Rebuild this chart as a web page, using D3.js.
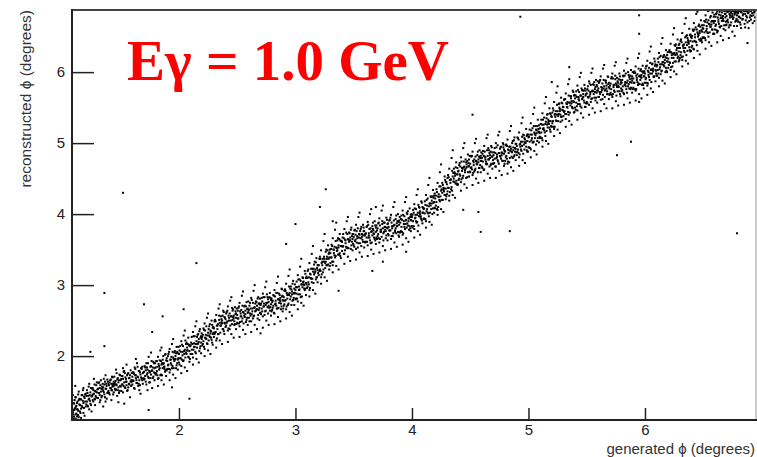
<!DOCTYPE html>
<html>
<head>
<meta charset="utf-8">
<script src="https://cdn.jsdelivr.net/npm/d3@7"></script>
<style>
  html, body { margin: 0; padding: 0; background: #fff; }
  svg { display: block; }
</style>
</head>
<body>
<svg id="chart" width="757" height="457"></svg>
<script>
// Generated vs reconstructed photon azimuth, E = 1.0 GeV
const xAxisTitle = "generated \u03D5 (degrees)";
const yAxisTitle = "reconstructed \u03D5 (degrees)";
const xMajorTicks = [2, 3, 4, 5, 6];
const yMajorTicks = [2, 3, 4, 5, 6];
const xRange = [1.082, 6.953];
const yRange = [1.10, 6.875];

// correlation band, first sample: [generated, reconstructed]
const events = [
[1.09,1.12],[1.09,1.21],[1.10,1.33],[1.10,1.15],[1.11,1.27],[1.11,1.42],[1.12,1.19],[1.12,1.11],[1.13,1.36],[1.13,1.25],[1.14,1.50],[1.14,1.14],[1.15,1.31],[1.15,1.22],[1.16,1.39],[1.16,1.13],[1.17,1.28],[1.17,1.45],[1.18,1.20],[1.18,1.34],[1.19,1.16],[1.19,1.41],[1.10,1.24],[1.12,1.30],[1.14,1.38],[1.16,1.26],[1.18,1.55],[1.09,1.45],[1.11,1.58],[1.20,1.29],
[1.20,1.47],[1.21,1.36],[1.21,1.52],[1.22,1.29],[1.22,1.44],[1.23,1.61],[1.23,1.40],[1.24,1.33],[1.24,1.49],[1.25,1.22],[1.25,1.43],[1.26,1.55],[1.26,1.38],[1.27,1.47],[1.27,1.68],[1.28,1.31],[1.28,1.51],[1.29,1.42],[1.29,1.59],[1.23,1.25],[1.26,1.46],[1.28,1.39],
[1.30,1.53],[1.30,1.41],[1.31,1.62],[1.31,1.48],[1.32,1.55],[1.32,1.35],[1.33,1.50],[1.33,1.66],[1.34,1.44],[1.34,1.57],[1.35,1.51],[1.35,1.29],[1.36,1.60],[1.36,1.46],[1.37,1.73],[1.37,1.54],[1.38,1.40],[1.38,1.58],[1.39,1.49],[1.39,1.64],[1.32,1.45],[1.35,1.56],[1.37,1.36],
[1.40,1.59],[1.40,1.48],[1.41,1.66],[1.41,1.55],[1.42,1.52],[1.42,1.61],[1.43,1.57],[1.43,1.70],[1.44,1.49],[1.44,1.58],[1.45,1.62],[1.45,1.54],[1.46,1.81],[1.46,1.60],[1.47,1.44],[1.47,1.67],[1.48,1.56],[1.48,1.63],[1.49,1.51],[1.49,1.74],[1.42,1.38],[1.44,1.64],[1.46,1.53],[1.48,1.35],[1.43,1.59],
[1.50,1.66],[1.50,1.57],[1.51,1.72],[1.51,1.60],[1.52,1.49],[1.52,1.68],[1.53,1.79],[1.53,1.63],[1.54,1.55],[1.54,1.70],[1.55,1.64],[1.55,1.88],[1.56,1.52],[1.56,1.75],[1.57,1.61],[1.57,1.69],[1.58,1.42],[1.58,1.73],[1.59,1.58],[1.59,1.66],[1.52,1.83],[1.55,1.59],
[1.60,1.71],[1.60,1.60],[1.61,1.77],[1.61,1.65],[1.62,1.54],[1.62,1.84],[1.63,1.69],[1.63,1.73],[1.64,1.62],[1.64,1.90],[1.65,1.70],[1.65,1.58],[1.66,1.79],[1.66,1.66],[1.67,1.47],[1.67,1.74],[1.68,1.82],[1.68,1.68],[1.69,1.61],[1.69,1.76],[1.63,1.96],[1.66,1.52],
[1.70,1.78],[1.70,1.67],[1.71,1.84],[1.71,1.72],[1.72,1.60],[1.72,1.90],[1.73,1.76],[1.73,1.81],[1.74,1.69],[1.74,1.99],[1.75,1.77],[1.75,1.63],[1.76,1.86],[1.76,1.74],[1.77,1.55],[1.77,1.80],[1.78,1.92],[1.78,1.71],[1.79,1.83],[1.79,1.66],[1.73,1.52],[1.76,2.05],
[1.80,1.84],[1.80,1.74],[1.81,1.93],[1.81,1.79],[1.82,1.68],[1.82,1.99],[1.83,1.86],[1.83,1.81],[1.84,1.73],[1.84,2.08],[1.85,1.88],[1.85,1.66],[1.86,1.95],[1.86,1.83],[1.87,1.60],[1.87,1.90],[1.88,2.02],[1.88,1.78],[1.89,1.94],[1.89,1.72],[1.82,1.58],[1.85,2.12],[1.87,1.85],
[1.90,1.93],[1.90,1.82],[1.91,2.03],[1.91,1.88],[1.92,1.77],[1.92,2.10],[1.93,1.95],[1.93,1.90],[1.94,1.83],[1.94,2.17],[1.95,1.98],[1.95,1.74],[1.96,2.05],[1.96,1.93],[1.97,1.69],[1.97,2.00],[1.98,2.13],[1.98,1.87],[1.99,2.04],[1.99,1.81],[1.92,1.66],[1.95,2.24],[1.97,1.96],[1.99,1.95],
[2.00,2.03],[2.00,1.91],[2.01,2.14],[2.01,1.97],[2.02,1.86],[2.02,2.21],[2.03,2.06],[2.03,2.01],[2.04,1.94],[2.04,2.29],[2.05,2.09],[2.05,1.84],[2.06,2.17],[2.06,2.05],[2.07,1.79],[2.07,2.12],[2.08,2.26],[2.08,1.99],[2.09,2.16],[2.09,1.92],[2.02,1.76],[2.05,2.36],[2.07,2.08],[2.09,2.07],
[2.10,2.15],[2.10,2.03],[2.11,2.27],[2.11,2.09],[2.12,1.98],[2.12,2.34],[2.13,2.18],[2.13,2.13],[2.14,2.06],[2.14,2.42],[2.15,2.21],[2.15,1.96],[2.16,2.30],[2.16,2.17],[2.17,1.91],[2.17,2.24],[2.18,2.38],[2.18,2.11],[2.19,2.28],[2.19,2.04],[2.12,1.88],[2.15,2.49],[2.17,2.20],[2.19,2.19],
[2.20,2.27],[2.20,2.15],[2.21,2.39],[2.21,2.21],[2.22,2.10],[2.22,2.46],[2.23,2.30],[2.23,2.25],[2.24,2.18],[2.24,2.54],[2.25,2.33],[2.25,2.08],[2.26,2.42],[2.26,2.29],[2.27,2.03],[2.27,2.36],[2.28,2.50],[2.28,2.23],[2.29,2.40],[2.29,2.16],[2.22,2.00],[2.25,2.60],[2.27,2.32],[2.29,2.31],
[2.30,2.39],[2.30,2.27],[2.31,2.51],[2.31,2.33],[2.32,2.22],[2.32,2.58],[2.33,2.43],[2.33,2.38],[2.34,2.31],[2.34,2.67],[2.35,2.47],[2.35,2.22],[2.36,2.56],[2.36,2.43],[2.37,2.17],[2.37,2.50],[2.38,2.64],[2.38,2.38],[2.39,2.55],[2.39,2.31],[2.32,2.12],[2.35,2.73],[2.37,2.46],[2.39,2.47],
[2.40,2.52],[2.40,2.41],[2.41,2.62],[2.41,2.47],[2.42,2.36],[2.42,2.70],[2.43,2.54],[2.43,2.50],[2.44,2.43],[2.44,2.78],[2.45,2.56],[2.45,2.31],[2.46,2.64],[2.46,2.51],[2.47,2.26],[2.47,2.57],[2.48,2.69],[2.48,2.45],[2.49,2.60],[2.49,2.38],[2.42,2.20],[2.45,2.83],[2.47,2.53],[2.49,2.54],
[2.50,2.58],[2.50,2.47],[2.51,2.68],[2.51,2.53],[2.52,2.42],[2.52,2.75],[2.53,2.60],[2.53,2.56],[2.54,2.49],[2.54,2.85],[2.55,2.62],[2.55,2.37],[2.56,2.70],[2.56,2.57],[2.57,2.31],[2.57,2.64],[2.58,2.76],[2.58,2.51],[2.59,2.67],[2.59,2.44],[2.52,2.27],[2.55,2.91],[2.57,2.59],[2.59,2.61],
[2.60,2.65],[2.60,2.54],[2.61,2.75],[2.61,2.60],[2.62,2.49],[2.62,2.82],[2.63,2.67],[2.63,2.63],[2.64,2.56],[2.64,2.92],[2.65,2.69],[2.65,2.44],[2.66,2.77],[2.66,2.64],[2.67,2.38],[2.67,2.71],[2.68,2.83],[2.68,2.58],[2.69,2.74],[2.69,2.51],[2.62,2.34],[2.65,3.00],[2.67,2.66],[2.69,2.68],
[2.70,2.72],[2.70,2.61],[2.71,2.82],[2.71,2.67],[2.72,2.56],[2.72,2.88],[2.73,2.74],[2.73,2.70],[2.74,2.63],[2.74,2.97],[2.75,2.75],[2.75,2.50],[2.76,2.83],[2.76,2.69],[2.77,2.44],[2.77,2.76],[2.78,2.89],[2.78,2.64],[2.79,2.79],[2.79,2.57],[2.72,2.40],[2.75,3.05],[2.77,2.71],[2.79,2.73],
[2.80,2.76],[2.80,2.65],[2.81,2.86],[2.81,2.71],[2.82,2.60],[2.82,2.93],[2.83,2.78],[2.83,2.74],[2.84,2.67],[2.84,3.03],[2.85,2.80],[2.85,2.55],[2.86,2.88],[2.86,2.75],[2.87,2.49],[2.87,2.82],[2.88,2.95],[2.88,2.70],[2.89,2.85],[2.89,2.63],[2.82,2.45],[2.85,3.12],[2.87,2.77],[2.89,2.79],
[2.90,2.83],[2.90,2.71],[2.91,2.94],[2.91,2.78],[2.92,2.66],[2.92,3.02],[2.93,2.86],[2.93,2.81],[2.94,2.74],[2.94,3.13],[2.95,2.89],[2.95,2.62],[2.96,2.98],[2.96,2.84],[2.97,2.57],[2.97,2.91],[2.98,3.06],[2.98,2.79],[2.99,2.95],[2.99,2.72],[2.92,2.53],[2.95,3.22],[2.97,2.87],[2.99,2.88],
[3.00,2.93],[3.00,2.80],[3.01,3.05],[3.01,2.88],[3.02,2.77],[3.02,3.14],[3.03,2.98],[3.03,2.93],[3.04,2.87],[3.04,3.26],[3.05,3.01],[3.05,2.75],[3.06,3.11],[3.06,2.97],[3.07,2.71],[3.07,3.05],[3.08,3.20],[3.08,2.93],[3.09,3.10],[3.09,2.86],[3.02,2.66],[3.05,3.37],[3.07,3.01],[3.09,3.03],
[3.10,3.10],[3.10,2.96],[3.11,3.22],[3.11,3.04],[3.12,2.93],[3.12,3.31],[3.13,3.15],[3.13,3.10],[3.14,3.04],[3.14,3.44],[3.15,3.19],[3.15,2.93],[3.16,3.29],[3.16,3.15],[3.17,2.88],[3.17,3.22],[3.18,3.38],[3.18,3.11],[3.19,3.28],[3.19,3.04],[3.12,2.84],[3.15,3.55],[3.17,3.19],[3.19,3.21],
[3.20,3.28],[3.20,3.14],[3.21,3.40],[3.21,3.22],[3.22,3.11],[3.22,3.49],[3.23,3.33],[3.23,3.28],[3.24,3.22],[3.24,3.62],[3.25,3.37],[3.25,3.11],[3.26,3.47],[3.26,3.33],[3.27,3.06],[3.27,3.40],[3.28,3.56],[3.28,3.29],[3.29,3.46],[3.29,3.22],[3.22,3.02],[3.25,3.72],[3.27,3.37],[3.29,3.39],
[3.30,3.45],[3.30,3.31],[3.31,3.57],[3.31,3.39],[3.32,3.28],[3.32,3.66],[3.33,3.50],[3.33,3.45],[3.34,3.39],[3.34,3.78],[3.35,3.53],[3.35,3.27],[3.36,3.63],[3.36,3.49],[3.37,3.22],[3.37,3.56],[3.38,3.72],[3.38,3.45],[3.39,3.62],[3.39,3.38],[3.32,3.18],[3.35,3.88],[3.37,3.53],[3.39,3.55],
[3.40,3.61],[3.40,3.48],[3.41,3.72],[3.41,3.55],[3.42,3.44],[3.42,3.79],[3.43,3.63],[3.43,3.59],[3.44,3.52],[3.44,3.90],[3.45,3.65],[3.45,3.40],[3.46,3.74],[3.46,3.61],[3.47,3.34],[3.47,3.67],[3.48,3.81],[3.48,3.56],[3.49,3.72],[3.49,3.49],[3.42,3.30],[3.45,3.96],[3.47,3.63],[3.49,3.65],
[3.50,3.68],[3.50,3.56],[3.51,3.78],[3.51,3.62],[3.52,3.51],[3.52,3.85],[3.53,3.69],[3.53,3.66],[3.54,3.59],[3.54,3.96],[3.55,3.71],[3.55,3.46],[3.56,3.79],[3.56,3.66],[3.57,3.40],[3.57,3.72],[3.58,3.85],[3.58,3.61],[3.59,3.76],[3.59,3.53],[3.52,3.36],[3.55,4.02],[3.57,3.68],[3.59,3.70],
[3.60,3.72],[3.60,3.60],[3.61,3.82],[3.61,3.67],[3.62,3.56],[3.62,3.89],[3.63,3.73],[3.63,3.70],[3.64,3.63],[3.64,4.00],[3.65,3.75],[3.65,3.50],[3.66,3.83],[3.66,3.70],[3.67,3.44],[3.67,3.77],[3.68,3.90],[3.68,3.65],[3.69,3.81],[3.69,3.58],[3.62,3.41],[3.65,4.07],[3.67,3.73],[3.69,3.75],
[3.70,3.77],[3.70,3.65],[3.71,3.87],[3.71,3.72],[3.72,3.60],[3.72,3.94],[3.73,3.78],[3.73,3.75],[3.74,3.68],[3.74,4.05],[3.75,3.80],[3.75,3.55],[3.76,3.88],[3.76,3.75],[3.77,3.49],[3.77,3.82],[3.78,3.95],[3.78,3.70],[3.79,3.86],[3.79,3.63],[3.72,3.46],[3.75,4.12],[3.77,3.78],[3.79,3.80],
[3.80,3.82],[3.80,3.70],[3.81,3.92],[3.81,3.77],[3.82,3.65],[3.82,3.99],[3.83,3.83],[3.83,3.80],[3.84,3.73],[3.84,4.10],[3.85,3.85],[3.85,3.60],[3.86,3.93],[3.86,3.80],[3.87,3.54],[3.87,3.87],[3.88,4.00],[3.88,3.75],[3.89,3.91],[3.89,3.68],[3.82,3.51],[3.85,4.17],[3.87,3.83],[3.89,3.85],
[3.90,3.88],[3.90,3.75],[3.91,3.98],[3.91,3.82],[3.92,3.71],[3.92,4.05],[3.93,3.90],[3.93,3.86],[3.94,3.79],[3.94,4.17],[3.95,3.92],[3.95,3.66],[3.96,4.00],[3.96,3.87],[3.97,3.61],[3.97,3.94],[3.98,4.08],[3.98,3.83],[3.99,3.99],[3.99,3.76],[3.92,3.57],[3.95,4.24],[3.97,3.90],[3.99,3.92],
[4.00,3.96],[4.00,3.83],[4.01,4.06],[4.01,3.90],[4.02,3.79],[4.02,4.14],[4.03,3.99],[4.03,3.95],[4.04,3.88],[4.04,4.27],[4.05,4.02],[4.05,3.76],[4.06,4.10],[4.06,3.97],[4.07,3.71],[4.07,4.04],[4.08,4.18],[4.08,3.93],[4.09,4.10],[4.09,3.87],[4.02,3.67],[4.05,4.35],[4.07,4.00],[4.09,4.02],
[4.10,4.07],[4.10,3.93],[4.11,4.18],[4.11,4.01],[4.12,3.90],[4.12,4.27],[4.13,4.12],[4.13,4.07],[4.14,4.01],[4.14,4.41],[4.15,4.15],[4.15,3.89],[4.16,4.25],[4.16,4.12],[4.17,3.85],[4.17,4.19],[4.18,4.34],[4.18,4.08],[4.19,4.26],[4.19,4.02],[4.12,3.81],[4.15,4.51],[4.17,4.15],[4.19,4.17],
[4.20,4.22],[4.20,4.08],[4.21,4.35],[4.21,4.17],[4.22,4.06],[4.22,4.44],[4.23,4.28],[4.23,4.24],[4.24,4.18],[4.24,4.59],[4.25,4.33],[4.25,4.07],[4.26,4.44],[4.26,4.30],[4.27,4.03],[4.27,4.37],[4.28,4.53],[4.28,4.27],[4.29,4.45],[4.29,4.21],[4.22,3.99],[4.25,4.70],[4.27,4.34],[4.29,4.36],
[4.30,4.42],[4.30,4.28],[4.31,4.55],[4.31,4.37],[4.32,4.26],[4.32,4.64],[4.33,4.48],[4.33,4.44],[4.34,4.38],[4.34,4.79],[4.35,4.53],[4.35,4.27],[4.36,4.64],[4.36,4.50],[4.37,4.23],[4.37,4.57],[4.38,4.73],[4.38,4.47],[4.39,4.65],[4.39,4.41],[4.32,4.19],[4.35,4.90],[4.37,4.54],[4.39,4.56],
[4.40,4.61],[4.40,4.48],[4.41,4.72],[4.41,4.56],[4.42,4.45],[4.42,4.80],[4.43,4.65],[4.43,4.61],[4.44,4.54],[4.44,4.93],[4.45,4.67],[4.45,4.42],[4.46,4.77],[4.46,4.64],[4.47,4.37],[4.47,4.70],[4.48,4.84],[4.48,4.59],[4.49,4.77],[4.49,4.53],[4.42,4.33],[4.45,5.00],[4.47,4.66],[4.49,4.68],
[4.50,4.71],[4.50,4.59],[4.51,4.81],[4.51,4.66],[4.52,4.55],[4.52,4.88],[4.53,4.73],[4.53,4.69],[4.54,4.62],[4.54,5.00],[4.55,4.75],[4.55,4.50],[4.56,4.83],[4.56,4.70],[4.57,4.44],[4.57,4.77],[4.58,4.90],[4.58,4.65],[4.59,4.82],[4.59,4.59],[4.52,4.41],[4.55,5.06],[4.57,4.73],[4.59,4.75],
[4.60,4.79],[4.60,4.67],[4.61,4.89],[4.61,4.74],[4.62,4.63],[4.62,4.96],[4.63,4.80],[4.63,4.77],[4.64,4.70],[4.64,5.07],[4.65,4.82],[4.65,4.57],[4.66,4.90],[4.66,4.77],[4.67,4.51],[4.67,4.83],[4.68,4.96],[4.68,4.71],[4.69,4.87],[4.69,4.64],[4.62,4.47],[4.65,5.12],[4.67,4.79],[4.69,4.81],
[4.70,4.83],[4.70,4.71],[4.71,4.93],[4.71,4.78],[4.72,4.67],[4.72,5.00],[4.73,4.84],[4.73,4.81],[4.74,4.74],[4.74,5.11],[4.75,4.86],[4.75,4.61],[4.76,4.94],[4.76,4.81],[4.77,4.55],[4.77,4.87],[4.78,5.00],[4.78,4.75],[4.79,4.91],[4.79,4.68],[4.72,4.51],[4.75,5.16],[4.77,4.83],[4.79,4.85],
[4.80,4.88],[4.80,4.75],[4.81,4.98],[4.81,4.82],[4.82,4.71],[4.82,5.05],[4.83,4.90],[4.83,4.86],[4.84,4.79],[4.84,5.17],[4.85,4.92],[4.85,4.66],[4.86,5.00],[4.86,4.87],[4.87,4.61],[4.87,4.94],[4.88,5.08],[4.88,4.83],[4.89,4.99],[4.89,4.76],[4.82,4.57],[4.85,5.24],[4.87,4.90],[4.89,4.92],
[4.90,4.96],[4.90,4.83],[4.91,5.07],[4.91,4.91],[4.92,4.80],[4.92,5.15],[4.93,4.99],[4.93,4.95],[4.94,4.89],[4.94,5.28],[4.95,5.02],[4.95,4.76],[4.96,5.11],[4.96,4.98],[4.97,4.72],[4.97,5.05],[4.98,5.20],[4.98,4.95],[4.99,5.12],[4.99,4.88],[4.92,4.68],[4.95,5.36],[4.97,5.01],[4.99,5.03],
[5.00,5.08],[5.00,4.94],[5.01,5.19],[5.01,5.02],[5.02,4.91],[5.02,5.28],[5.03,5.12],[5.03,5.07],[5.04,5.01],[5.04,5.41],[5.05,5.15],[5.05,4.89],[5.06,5.24],[5.06,5.11],[5.07,4.84],[5.07,5.18],[5.08,5.33],[5.08,5.07],[5.09,5.25],[5.09,5.01],[5.02,4.80],[5.05,5.50],[5.07,5.14],[5.09,5.16],
[5.10,5.21],[5.10,5.07],[5.11,5.33],[5.11,5.15],[5.12,5.04],[5.12,5.42],[5.13,5.26],[5.13,5.21],[5.14,5.15],[5.14,5.56],[5.15,5.30],[5.15,5.03],[5.16,5.40],[5.16,5.26],[5.17,4.99],[5.17,5.33],[5.18,5.49],[5.18,5.22],[5.19,5.41],[5.19,5.16],[5.12,4.95],[5.15,5.65],[5.17,5.29],[5.19,5.31],
[5.20,5.37],[5.20,5.23],[5.21,5.49],[5.21,5.31],[5.22,5.20],[5.22,5.58],[5.23,5.41],[5.23,5.37],[5.24,5.31],[5.24,5.71],[5.25,5.45],[5.25,5.19],[5.26,5.55],[5.26,5.41],[5.27,5.14],[5.27,5.48],[5.28,5.64],[5.28,5.37],[5.29,5.56],[5.29,5.32],[5.22,5.10],[5.25,5.80],[5.27,5.45],[5.29,5.47],
[5.30,5.51],[5.30,5.38],[5.31,5.62],[5.31,5.45],[5.32,5.34],[5.32,5.70],[5.33,5.55],[5.33,5.51],[5.34,5.44],[5.34,5.83],[5.35,5.57],[5.35,5.31],[5.36,5.66],[5.36,5.53],[5.37,5.26],[5.37,5.59],[5.38,5.74],[5.38,5.49],[5.39,5.67],[5.39,5.43],[5.32,5.23],[5.35,5.90],[5.37,5.56],[5.39,5.58],
[5.40,5.63],[5.40,5.50],[5.41,5.73],[5.41,5.57],[5.42,5.46],[5.42,5.81],[5.43,5.65],[5.43,5.62],[5.44,5.55],[5.44,5.93],[5.45,5.67],[5.45,5.42],[5.46,5.75],[5.46,5.62],[5.47,5.36],[5.47,5.69],[5.48,5.82],[5.48,5.57],[5.49,5.74],[5.49,5.51],[5.42,5.33],[5.45,5.99],[5.47,5.65],[5.49,5.67],
[5.50,5.70],[5.50,5.58],[5.51,5.80],[5.51,5.65],[5.52,5.54],[5.52,5.87],[5.53,5.72],[5.53,5.69],[5.54,5.62],[5.54,5.99],[5.55,5.74],[5.55,5.49],[5.56,5.82],[5.56,5.69],[5.57,5.43],[5.57,5.76],[5.58,5.89],[5.58,5.64],[5.59,5.80],[5.59,5.57],[5.52,5.40],[5.55,6.05],[5.57,5.72],[5.59,5.74],
[5.60,5.77],[5.60,5.65],[5.61,5.87],[5.61,5.72],[5.62,5.61],[5.62,5.94],[5.63,5.78],[5.63,5.75],[5.64,5.68],[5.64,6.05],[5.65,5.80],[5.65,5.55],[5.66,5.88],[5.66,5.75],[5.67,5.49],[5.67,5.81],[5.68,5.94],[5.68,5.69],[5.69,5.85],[5.69,5.62],[5.62,5.45],[5.65,6.10],[5.67,5.77],[5.69,5.79],
[5.70,5.81],[5.70,5.69],[5.71,5.91],[5.71,5.76],[5.72,5.65],[5.72,5.98],[5.73,5.82],[5.73,5.79],[5.74,5.72],[5.74,6.09],[5.75,5.84],[5.75,5.59],[5.76,5.92],[5.76,5.79],[5.77,5.53],[5.77,5.85],[5.78,5.98],[5.78,5.73],[5.79,5.89],[5.79,5.66],[5.72,5.49],[5.75,6.14],[5.77,5.81],[5.79,5.83],
[5.80,5.85],[5.80,5.73],[5.81,5.95],[5.81,5.80],[5.82,5.69],[5.82,6.02],[5.83,5.86],[5.83,5.83],[5.84,5.76],[5.84,6.13],[5.85,5.88],[5.85,5.63],[5.86,5.96],[5.86,5.83],[5.87,5.57],[5.87,5.90],[5.88,6.03],[5.88,5.78],[5.89,5.94],[5.89,5.71],[5.82,5.54],[5.85,6.19],[5.87,5.86],[5.89,5.88],
[5.90,5.91],[5.90,5.78],[5.91,6.01],[5.91,5.85],[5.92,5.74],[5.92,6.08],[5.93,5.92],[5.93,5.89],[5.94,5.82],[5.94,6.20],[5.95,5.94],[5.95,5.69],[5.96,6.02],[5.96,5.89],[5.97,5.63],[5.97,5.96],[5.98,6.09],[5.98,5.84],[5.99,6.01],[5.99,5.77],[5.92,5.60],[5.95,6.26],[5.97,5.92],[5.99,5.94],
[6.00,5.98],[6.00,5.85],[6.01,6.08],[6.01,5.92],[6.02,5.81],[6.02,6.16],[6.03,6.00],[6.03,5.96],[6.04,5.89],[6.04,6.29],[6.05,6.03],[6.05,5.77],[6.06,6.11],[6.06,5.98],[6.07,5.72],[6.07,6.05],[6.08,6.19],[6.08,5.94],[6.09,6.11],[6.09,5.87],[6.02,5.68],[6.05,6.36],[6.07,6.01],[6.09,6.03],
[6.10,6.08],[6.10,5.95],[6.11,6.19],[6.11,6.03],[6.12,5.92],[6.12,6.27],[6.13,6.11],[6.13,6.07],[6.14,6.01],[6.14,6.40],[6.15,6.14],[6.15,5.88],[6.16,6.23],[6.16,6.10],[6.17,5.84],[6.17,6.17],[6.18,6.31],[6.18,6.06],[6.19,6.24],[6.19,6.00],[6.12,5.80],[6.15,6.48],[6.17,6.13],[6.19,6.15],
[6.20,6.19],[6.20,6.06],[6.21,6.31],[6.21,6.14],[6.22,6.03],[6.22,6.40],[6.23,6.24],[6.23,6.20],[6.24,6.13],[6.24,6.53],[6.25,6.27],[6.25,6.01],[6.26,6.37],[6.26,6.24],[6.27,5.97],[6.27,6.31],[6.28,6.46],[6.28,6.20],[6.29,6.38],[6.29,6.15],[6.22,5.93],[6.25,6.62],[6.27,6.27],[6.29,6.29],
[6.30,6.34],[6.30,6.20],[6.31,6.46],[6.31,6.28],[6.32,6.17],[6.32,6.55],[6.33,6.38],[6.33,6.34],[6.34,6.28],[6.34,6.68],[6.35,6.42],[6.35,6.16],[6.36,6.52],[6.36,6.38],[6.37,6.12],[6.37,6.45],[6.38,6.61],[6.38,6.35],[6.39,6.53],[6.39,6.29],[6.32,6.08],[6.35,6.76],[6.37,6.42],[6.39,6.44],
[6.40,6.48],[6.40,6.35],[6.41,6.60],[6.41,6.43],[6.42,6.32],[6.42,6.69],[6.43,6.53],[6.43,6.49],[6.44,6.42],[6.44,6.82],[6.45,6.56],[6.45,6.30],[6.46,6.65],[6.46,6.52],[6.47,6.25],[6.47,6.58],[6.48,6.73],[6.48,6.47],[6.49,6.66],[6.49,6.42],[6.42,6.20],[6.45,6.85],[6.47,6.55],[6.49,6.57],
[6.50,6.61],[6.50,6.48],[6.51,6.72],[6.51,6.56],[6.52,6.45],[6.52,6.80],[6.53,6.65],[6.53,6.61],[6.54,6.55],[6.54,6.86],[6.55,6.68],[6.55,6.42],[6.56,6.77],[6.56,6.64],[6.57,6.37],[6.57,6.71],[6.58,6.84],[6.58,6.60],[6.59,6.78],[6.59,6.54],[6.52,6.33],[6.55,6.87],[6.57,6.67],[6.59,6.69],
[6.60,6.72],[6.60,6.60],[6.61,6.82],[6.61,6.67],[6.62,6.56],[6.62,6.86],[6.63,6.74],[6.63,6.71],[6.64,6.64],[6.64,6.85],[6.65,6.76],[6.65,6.51],[6.66,6.84],[6.66,6.72],[6.67,6.45],[6.67,6.79],[6.68,6.86],[6.68,6.66],[6.69,6.82],[6.69,6.59],[6.62,6.42],[6.65,6.80],[6.67,6.75],[6.69,6.77],
[6.70,6.79],[6.70,6.67],[6.71,6.85],[6.71,6.74],[6.72,6.63],[6.72,6.86],[6.73,6.80],[6.73,6.77],[6.74,6.70],[6.74,6.84],[6.75,6.82],[6.75,6.57],[6.76,6.86],[6.76,6.77],[6.77,6.51],[6.77,6.83],[6.78,6.85],[6.78,6.72],[6.79,6.84],[6.79,6.65],[6.72,6.48],[6.75,6.79],[6.77,6.81],[6.79,6.80],
[6.80,6.83],[6.80,6.71],[6.81,6.86],[6.81,6.78],[6.82,6.67],[6.83,6.84],[6.84,6.80],[6.84,6.75],[6.85,6.86],[6.86,6.63],[6.86,6.82],[6.87,6.79],[6.88,6.85],[6.88,6.70],[6.89,6.84],[6.90,6.77],[6.91,6.86],[6.91,6.74],[6.92,6.83],[6.93,6.80],[6.94,6.85],[6.94,6.72],[6.82,6.76],[6.89,6.62]
];

// correlation band, second sample (denser core)
const coreEvents = [
[1.105,1.25],[1.105,1.38],[1.115,1.42],[1.115,1.18],[1.125,1.34],[1.125,1.25],[1.135,1.23],[1.135,1.46],[1.145,1.40],[1.145,1.32],[1.155,1.20],[1.155,1.39],[1.165,1.45],[1.165,1.30],[1.175,1.37],[1.175,1.52],[1.185,1.27],[1.185,1.43],[1.195,1.46],[1.195,1.36],
[1.085,1.13],[1.095,1.18],[1.085,1.26],[1.095,1.34],[1.105,1.12],[1.125,1.15],[1.085,1.38],[1.095,1.11],[1.115,1.29],[1.135,1.17],
[1.205,1.44],[1.205,1.32],[1.215,1.30],[1.215,1.48],[1.225,1.57],[1.225,1.39],[1.235,1.37],[1.235,1.45],[1.245,1.55],[1.245,1.31],[1.255,1.44],[1.255,1.54],[1.265,1.52],[1.265,1.36],[1.275,1.40],[1.275,1.60],[1.285,1.50],[1.285,1.44],[1.295,1.63],[1.295,1.49],
[1.305,1.41],[1.305,1.54],[1.315,1.63],[1.315,1.48],[1.325,1.38],[1.325,1.59],[1.335,1.54],[1.335,1.42],[1.345,1.61],[1.345,1.53],[1.355,1.49],[1.355,1.68],[1.365,1.64],[1.365,1.42],[1.375,1.54],[1.375,1.61],[1.385,1.48],[1.385,1.67],[1.395,1.61],[1.395,1.51],
[1.405,1.63],[1.405,1.46],[1.415,1.55],[1.415,1.67],[1.425,1.71],[1.425,1.52],[1.435,1.46],[1.435,1.61],[1.445,1.60],[1.445,1.71],[1.455,1.52],[1.455,1.65],[1.465,1.76],[1.465,1.59],[1.475,1.52],[1.475,1.69],[1.485,1.66],[1.485,1.48],[1.495,1.58],[1.495,1.73],
[1.505,1.51],[1.505,1.68],[1.515,1.72],[1.515,1.60],[1.525,1.58],[1.525,1.78],[1.535,1.76],[1.535,1.56],[1.545,1.64],[1.545,1.68],[1.555,1.73],[1.555,1.51],[1.565,1.56],[1.565,1.76],[1.575,1.69],[1.575,1.60],[1.585,1.80],[1.585,1.64],[1.595,1.64],[1.595,1.76],
[1.605,1.77],[1.605,1.66],[1.615,1.55],[1.615,1.75],[1.625,1.73],[1.625,1.82],[1.635,1.62],[1.635,1.66],[1.645,1.85],[1.645,1.71],[1.655,1.61],[1.655,1.79],[1.665,1.77],[1.665,1.59],[1.675,1.70],[1.675,1.83],[1.685,1.85],[1.685,1.66],[1.695,1.69],[1.695,1.77],
[1.705,1.68],[1.705,1.86],[1.715,1.80],[1.715,1.64],[1.725,1.74],[1.725,1.84],[1.735,1.90],[1.735,1.71],[1.745,1.63],[1.745,1.79],[1.755,1.85],[1.755,1.69],[1.765,1.79],[1.765,1.93],[1.775,1.69],[1.775,1.84],[1.785,1.90],[1.785,1.77],[1.795,1.76],[1.795,1.90],
[1.805,1.93],[1.805,1.76],[1.815,1.73],[1.815,1.85],[1.825,1.89],[1.825,1.69],[1.835,1.83],[1.835,1.94],[1.845,1.93],[1.845,1.74],[1.855,1.73],[1.855,1.90],[1.865,1.89],[1.865,2.00],[1.875,1.82],[1.875,1.85],[1.885,2.03],[1.885,1.80],[1.895,1.80],[1.895,1.97],
[1.905,1.87],[1.905,2.00],[1.915,2.06],[1.915,1.82],[1.925,1.81],[1.925,1.95],[1.935,1.99],[1.935,1.88],[1.945,1.86],[1.945,2.06],[1.955,1.96],[1.955,1.83],[1.965,2.07],[1.965,1.95],[1.975,1.83],[1.975,2.04],[1.985,2.06],[1.985,1.90],[1.995,1.97],[1.995,2.13],
[2.005,2.08],[2.005,1.88],[2.015,1.97],[2.015,2.06],[2.025,2.16],[2.025,1.95],[2.035,1.93],[2.035,2.14],[2.045,2.07],[2.045,2.03],[2.055,1.98],[2.055,2.22],[2.065,2.19],[2.065,2.03],[2.075,2.08],[2.075,2.17],[2.085,2.15],[2.085,1.98],[2.095,1.96],[2.095,2.14],
[2.105,2.03],[2.105,2.19],[2.115,2.17],[2.115,2.03],[2.125,2.09],[2.125,2.28],[2.135,2.28],[2.135,2.13],[2.145,2.04],[2.145,2.17],[2.155,2.27],[2.155,2.12],[2.165,2.18],[2.165,2.31],[2.175,2.35],[2.175,2.07],[2.185,2.14],[2.185,2.26],[2.195,2.24],[2.195,2.32],
[2.205,2.30],[2.205,2.17],[2.215,2.13],[2.215,2.37],[2.225,2.36],[2.225,2.26],[2.235,2.24],[2.235,2.42],[2.245,2.29],[2.245,2.17],[2.255,2.22],[2.255,2.38],[2.265,2.45],[2.265,2.27],[2.275,2.26],[2.275,2.35],[2.285,2.44],[2.285,2.19],[2.295,2.33],[2.295,2.41],
[2.305,2.31],[2.305,2.49],[2.315,2.49],[2.315,2.34],[2.325,2.25],[2.325,2.43],[2.335,2.45],[2.335,2.31],[2.345,2.51],[2.345,2.57],[2.355,2.33],[2.355,2.43],[2.365,2.47],[2.365,2.52],[2.375,2.38],[2.375,2.57],[2.385,2.62],[2.385,2.35],[2.395,2.46],[2.395,2.54],
[2.405,2.60],[2.405,2.43],[2.415,2.49],[2.415,2.64],[2.425,2.57],[2.425,2.39],[2.435,2.38],[2.435,2.60],[2.445,2.56],[2.445,2.50],[2.455,2.45],[2.455,2.68],[2.465,2.66],[2.465,2.55],[2.475,2.49],[2.475,2.44],[2.485,2.63],[2.485,2.59],[2.495,2.45],[2.495,2.67],
[2.505,2.53],[2.505,2.64],[2.515,2.70],[2.515,2.46],[2.525,2.48],[2.525,2.63],[2.535,2.65],[2.535,2.56],[2.545,2.53],[2.545,2.71],[2.555,2.61],[2.555,2.46],[2.565,2.71],[2.565,2.55],[2.575,2.48],[2.575,2.70],[2.585,2.66],[2.585,2.54],[2.595,2.62],[2.595,2.77],
[2.605,2.71],[2.605,2.49],[2.615,2.57],[2.615,2.67],[2.625,2.79],[2.625,2.59],[2.635,2.53],[2.635,2.75],[2.645,2.68],[2.645,2.57],[2.655,2.63],[2.655,2.74],[2.665,2.76],[2.665,2.66],[2.675,2.53],[2.675,2.81],[2.685,2.74],[2.685,2.65],[2.695,2.61],[2.695,2.81],
[2.705,2.59],[2.705,2.74],[2.715,2.77],[2.715,2.63],[2.725,2.70],[2.725,2.83],[2.735,2.83],[2.735,2.58],[2.745,2.64],[2.745,2.72],[2.755,2.75],[2.755,2.87],[2.765,2.60],[2.765,2.80],[2.775,2.83],[2.775,2.68],[2.785,2.69],[2.785,2.82],[2.795,2.81],[2.795,2.63],
[2.805,2.78],[2.805,2.68],[2.815,2.61],[2.815,2.85],[2.825,2.84],[2.825,2.73],[2.835,2.71],[2.835,2.89],[2.845,2.89],[2.845,2.67],[2.855,2.68],[2.855,2.80],[2.865,2.79],[2.865,2.86],[2.875,2.66],[2.875,2.74],[2.885,2.94],[2.885,2.84],[2.895,2.78],[2.895,2.67],
[2.905,2.73],[2.905,2.92],[2.915,2.92],[2.915,2.79],[2.925,2.70],[2.925,2.89],[2.935,2.87],[2.935,2.72],[2.945,2.98],[2.945,2.86],[2.955,2.80],[2.955,2.95],[2.965,2.94],[2.965,2.72],[2.975,2.78],[2.975,3.02],[2.985,2.89],[2.985,2.82],[2.995,3.01],[2.995,2.89],
[3.005,2.97],[3.005,2.81],[3.015,2.81],[3.015,2.97],[3.025,3.08],[3.025,2.87],[3.035,2.94],[3.035,3.08],[3.045,3.06],[3.045,2.83],[3.055,2.84],[3.055,3.01],[3.065,3.04],[3.065,3.10],[3.075,2.95],[3.075,3.00],[3.085,3.16],[3.085,2.95],[3.095,3.01],[3.095,3.12],
[3.105,2.98],[3.105,3.20],[3.115,3.11],[3.115,3.01],[3.125,2.96],[3.125,3.16],[3.135,3.23],[3.135,3.09],[3.145,3.09],[3.145,3.23],[3.155,3.23],[3.155,3.03],[3.165,3.17],[3.165,3.33],[3.175,3.32],[3.175,3.08],[3.185,3.11],[3.185,3.24],[3.195,3.28],[3.195,3.17],
[3.205,3.37],[3.205,3.20],[3.215,3.20],[3.215,3.37],[3.225,3.31],[3.225,3.15],[3.235,3.18],[3.235,3.37],[3.245,3.40],[3.245,3.33],[3.255,3.31],[3.255,3.24],[3.265,3.50],[3.265,3.28],[3.275,3.28],[3.275,3.49],[3.285,3.44],[3.285,3.37],[3.295,3.27],[3.295,3.50],
[3.305,3.39],[3.305,3.51],[3.315,3.55],[3.315,3.33],[3.325,3.33],[3.325,3.50],[3.335,3.54],[3.335,3.42],[3.345,3.41],[3.345,3.62],[3.355,3.52],[3.355,3.48],[3.365,3.66],[3.365,3.43],[3.375,3.43],[3.375,3.65],[3.385,3.63],[3.385,3.41],[3.395,3.55],[3.395,3.62],
[3.405,3.67],[3.405,3.54],[3.415,3.44],[3.415,3.66],[3.425,3.64],[3.425,3.49],[3.435,3.54],[3.435,3.74],[3.445,3.72],[3.445,3.53],[3.455,3.52],[3.455,3.64],[3.465,3.63],[3.465,3.73],[3.475,3.78],[3.475,3.51],[3.485,3.61],[3.485,3.69],[3.495,3.72],[3.495,3.58],
[3.505,3.54],[3.505,3.77],[3.515,3.71],[3.515,3.64],[3.525,3.60],[3.525,3.76],[3.535,3.80],[3.535,3.53],[3.545,3.67],[3.545,3.72],[3.555,3.76],[3.555,3.59],[3.565,3.55],[3.565,3.82],[3.575,3.71],[3.575,3.64],[3.585,3.81],[3.585,3.76],[3.595,3.61],[3.595,3.70],
[3.605,3.73],[3.605,3.61],[3.615,3.61],[3.615,3.83],[3.625,3.85],[3.625,3.67],[3.635,3.67],[3.635,3.79],[3.645,3.80],[3.645,3.59],[3.655,3.60],[3.655,3.76],[3.665,3.79],[3.665,3.88],[3.675,3.72],[3.675,3.67],[3.685,3.84],[3.685,3.63],[3.695,3.67],[3.695,3.84],
[3.705,3.69],[3.705,3.80],[3.715,3.88],[3.715,3.66],[3.725,3.65],[3.725,3.84],[3.735,3.78],[3.735,3.75],[3.745,3.86],[3.745,3.90],[3.755,3.63],[3.755,3.73],[3.765,3.82],[3.765,3.88],[3.775,3.76],[3.775,3.66],[3.785,3.92],[3.785,3.81],[3.795,3.72],[3.795,3.87],
[3.805,3.91],[3.805,3.77],[3.815,3.77],[3.815,3.95],[3.825,3.88],[3.825,3.69],[3.835,3.69],[3.835,3.83],[3.845,3.84],[3.845,3.91],[3.855,3.75],[3.855,3.77],[3.865,3.98],[3.865,3.73],[3.875,3.83],[3.875,3.90],[3.885,3.89],[3.885,3.70],[3.895,3.74],[3.895,3.96],
[3.905,3.76],[3.905,3.93],[3.915,3.92],[3.915,3.75],[3.925,3.73],[3.925,3.99],[3.935,3.97],[3.935,3.82],[3.945,3.86],[3.945,3.91],[3.955,4.02],[3.955,3.81],[3.965,3.84],[3.965,4.04],[3.975,3.94],[3.975,3.78],[3.985,3.80],[3.985,3.96],[3.995,4.00],[3.995,3.91],
[4.005,3.99],[4.005,3.81],[4.015,3.83],[4.015,4.02],[4.025,4.08],[4.025,3.94],[4.035,3.90],[4.035,4.07],[4.045,3.99],[4.045,3.89],[4.055,3.84],[4.055,4.13],[4.065,4.09],[4.065,4.02],[4.075,3.97],[4.075,3.95],[4.085,4.16],[4.085,3.91],[4.095,4.02],[4.095,4.09],
[4.105,3.94],[4.105,4.08],[4.115,4.13],[4.115,3.93],[4.125,4.04],[4.125,4.20],[4.135,4.22],[4.135,4.02],[4.145,3.97],[4.145,4.11],[4.155,4.15],[4.155,4.02],[4.165,4.07],[4.165,4.24],[4.175,4.25],[4.175,4.00],[4.185,4.16],[4.185,4.23],[4.195,4.09],[4.195,4.29],
[4.205,4.26],[4.205,4.12],[4.215,4.07],[4.215,4.31],[4.225,4.25],[4.225,4.10],[4.235,4.20],[4.235,4.39],[4.245,4.39],[4.245,4.25],[4.255,4.20],[4.255,4.35],[4.265,4.41],[4.265,4.20],[4.275,4.32],[4.275,4.36],[4.285,4.48],[4.285,4.27],[4.295,4.25],[4.295,4.45],
[4.305,4.32],[4.305,4.51],[4.315,4.52],[4.315,4.37],[4.325,4.31],[4.325,4.48],[4.335,4.49],[4.335,4.35],[4.345,4.61],[4.345,4.33],[4.355,4.46],[4.355,4.58],[4.365,4.59],[4.365,4.45],[4.375,4.43],[4.375,4.66],[4.385,4.56],[4.385,4.43],[4.395,4.42],[4.395,4.60],
[4.405,4.69],[4.405,4.50],[4.415,4.54],[4.415,4.67],[4.425,4.74],[4.425,4.49],[4.435,4.51],[4.435,4.64],[4.445,4.66],[4.445,4.74],[4.455,4.62],[4.455,4.59],[4.465,4.73],[4.465,4.51],[4.475,4.52],[4.475,4.75],[4.485,4.72],[4.485,4.67],[4.495,4.60],[4.495,4.82],
[4.505,4.65],[4.505,4.82],[4.515,4.82],[4.515,4.63],[4.525,4.58],[4.525,4.75],[4.535,4.77],[4.535,4.60],[4.545,4.64],[4.545,4.81],[4.555,4.74],[4.555,4.71],[4.565,4.88],[4.565,4.59],[4.575,4.65],[4.575,4.81],[4.585,4.79],[4.585,4.69],[4.595,4.75],[4.595,4.87],
[4.605,4.85],[4.605,4.65],[4.615,4.62],[4.615,4.82],[4.625,4.81],[4.625,4.88],[4.635,4.71],[4.635,4.74],[4.645,4.90],[4.645,4.71],[4.655,4.77],[4.655,4.93],[4.665,4.86],[4.665,4.67],[4.675,4.69],[4.675,4.88],[4.685,4.94],[4.685,4.81],[4.695,4.76],[4.695,4.71],
[4.705,4.72],[4.705,4.87],[4.715,4.86],[4.715,4.67],[4.725,4.79],[4.725,4.94],[4.735,4.97],[4.735,4.76],[4.745,4.71],[4.745,4.86],[4.755,4.92],[4.755,4.82],[4.765,4.78],[4.765,4.95],[4.775,4.86],[4.775,4.75],[4.785,4.94],[4.785,4.98],[4.795,4.71],[4.795,4.89],
[4.805,4.97],[4.805,4.80],[4.815,4.78],[4.815,4.96],[4.825,4.91],[4.825,4.74],[4.835,4.73],[4.835,4.95],[4.845,4.95],[4.845,4.89],[4.855,4.88],[4.855,4.81],[4.865,5.03],[4.865,4.79],[4.875,4.81],[4.875,5.04],[4.885,4.93],[4.885,4.88],[4.895,4.87],[4.895,4.99],
[4.905,4.88],[4.905,5.08],[4.915,5.05],[4.915,4.86],[4.925,4.84],[4.925,4.98],[4.935,5.02],[4.935,4.91],[4.945,4.96],[4.945,5.09],[4.955,5.12],[4.955,4.85],[4.965,4.91],[4.965,5.07],[4.975,5.01],[4.975,5.00],[4.985,5.10],[4.985,4.90],[4.995,4.88],[4.995,5.12],
[5.005,5.09],[5.005,4.94],[5.015,4.93],[5.015,5.12],[5.025,5.18],[5.025,5.04],[5.035,5.01],[5.035,5.21],[5.045,5.24],[5.045,5.02],[5.055,5.07],[5.055,5.13],[5.065,5.19],[5.065,4.98],[5.075,5.03],[5.075,5.24],[5.085,5.16],[5.085,5.20],[5.095,5.14],[5.095,5.09],
[5.105,5.08],[5.105,5.27],[5.115,5.26],[5.115,5.07],[5.125,5.20],[5.125,5.33],[5.135,5.36],[5.135,5.18],[5.145,5.10],[5.145,5.27],[5.155,5.35],[5.155,5.17],[5.165,5.22],[5.165,5.41],[5.175,5.31],[5.175,5.27],[5.185,5.42],[5.185,5.19],[5.195,5.24],[5.195,5.38],
[5.205,5.43],[5.205,5.28],[5.215,5.23],[5.215,5.46],[5.225,5.40],[5.225,5.23],[5.235,5.32],[5.235,5.45],[5.245,5.54],[5.245,5.40],[5.255,5.38],[5.255,5.31],[5.265,5.50],[5.265,5.56],[5.275,5.30],[5.275,5.40],[5.285,5.57],[5.285,5.37],[5.295,5.46],[5.295,5.51],
[5.305,5.44],[5.305,5.61],[5.315,5.62],[5.315,5.41],[5.325,5.41],[5.325,5.56],[5.335,5.58],[5.335,5.50],[5.345,5.40],[5.345,5.67],[5.355,5.57],[5.355,5.43],[5.365,5.66],[5.365,5.63],[5.375,5.50],[5.375,5.51],[5.385,5.72],[5.385,5.59],[5.395,5.44],[5.395,5.68],
[5.405,5.67],[5.405,5.47],[5.415,5.52],[5.415,5.65],[5.425,5.75],[5.425,5.55],[5.435,5.60],[5.435,5.72],[5.445,5.67],[5.445,5.52],[5.455,5.50],[5.455,5.77],[5.465,5.74],[5.465,5.64],[5.475,5.60],[5.475,5.74],[5.485,5.77],[5.485,5.51],[5.495,5.56],[5.495,5.69],
[5.505,5.56],[5.505,5.76],[5.515,5.74],[5.515,5.64],[5.525,5.66],[5.525,5.84],[5.535,5.82],[5.535,5.58],[5.545,5.63],[5.545,5.73],[5.555,5.73],[5.555,5.83],[5.565,5.86],[5.565,5.64],[5.575,5.60],[5.575,5.79],[5.585,5.82],[5.585,5.71],[5.595,5.74],[5.595,5.87],
[5.605,5.85],[5.605,5.65],[5.615,5.69],[5.615,5.89],[5.625,5.79],[5.625,5.72],[5.635,5.62],[5.635,5.84],[5.645,5.89],[5.645,5.77],[5.655,5.74],[5.655,5.65],[5.665,5.85],[5.665,5.88],[5.675,5.69],[5.675,5.73],[5.685,5.93],[5.685,5.83],[5.695,5.77],[5.695,5.68],
[5.705,5.71],[5.705,5.84],[5.715,5.93],[5.715,5.68],[5.725,5.69],[5.725,5.91],[5.735,5.82],[5.735,5.74],[5.745,5.90],[5.745,5.95],[5.755,5.67],[5.755,5.82],[5.765,5.87],[5.765,5.73],[5.775,5.79],[5.775,5.90],[5.785,5.94],[5.785,5.69],[5.795,5.77],[5.795,5.86],
[5.805,5.89],[5.805,5.75],[5.815,5.71],[5.815,5.94],[5.825,5.95],[5.825,5.82],[5.835,5.80],[5.835,5.98],[5.845,5.85],[5.845,5.71],[5.855,6.00],[5.855,5.80],[5.865,5.77],[5.865,5.93],[5.875,5.95],[5.875,5.76],[5.885,5.85],[5.885,5.91],[5.895,5.76],[5.895,6.00],
[5.905,5.85],[5.905,5.99],[5.915,5.99],[5.915,5.76],[5.925,5.76],[5.925,5.95],[5.935,5.97],[5.935,5.86],[5.945,5.84],[5.945,6.05],[5.955,5.95],[5.955,5.83],[5.965,6.04],[5.965,5.93],[5.975,5.82],[5.975,6.01],[5.985,5.99],[5.985,5.82],[5.995,5.94],[5.995,6.01],
[6.005,6.05],[6.005,5.90],[6.015,5.85],[6.015,6.09],[6.025,6.02],[6.025,5.84],[6.035,5.93],[6.035,6.06],[6.045,6.13],[6.045,5.98],[6.055,5.86],[6.055,6.04],[6.065,6.03],[6.065,6.12],[6.075,5.94],[6.075,5.93],[6.085,6.15],[6.085,6.09],[6.095,6.02],[6.095,5.98],
[6.105,5.95],[6.105,6.10],[6.115,6.14],[6.115,5.98],[6.125,6.04],[6.125,6.21],[6.135,6.23],[6.135,5.97],[6.145,6.02],[6.145,6.11],[6.155,6.14],[6.155,6.21],[6.165,6.24],[6.165,6.08],[6.175,6.00],[6.175,6.21],[6.185,6.20],[6.185,6.02],[6.195,6.15],[6.195,6.28],
[6.205,6.29],[6.205,6.10],[6.215,6.13],[6.215,6.28],[6.225,6.28],[6.225,6.07],[6.235,6.08],[6.235,6.26],[6.245,6.25],[6.245,6.20],[6.255,6.15],[6.255,6.38],[6.265,6.39],[6.265,6.15],[6.275,6.25],[6.275,6.34],[6.285,6.34],[6.285,6.22],[6.295,6.17],[6.295,6.40],
[6.305,6.24],[6.305,6.44],[6.315,6.42],[6.315,6.21],[6.325,6.22],[6.325,6.37],[6.335,6.39],[6.335,6.30],[6.345,6.34],[6.345,6.49],[6.355,6.51],[6.355,6.24],[6.365,6.30],[6.365,6.48],[6.375,6.42],[6.375,6.40],[6.385,6.52],[6.385,6.31],[6.395,6.30],[6.395,6.50],
[6.405,6.51],[6.405,6.37],[6.415,6.33],[6.415,6.58],[6.425,6.60],[6.425,6.44],[6.435,6.43],[6.435,6.63],[6.445,6.60],[6.445,6.38],[6.455,6.50],[6.455,6.54],[6.465,6.67],[6.465,6.46],[6.475,6.44],[6.475,6.64],[6.485,6.59],[6.485,6.45],[6.495,6.49],[6.495,6.62],
[6.505,6.49],[6.505,6.66],[6.515,6.71],[6.515,6.48],[6.525,6.58],[6.525,6.74],[6.535,6.70],[6.535,6.56],[6.545,6.50],[6.545,6.73],[6.555,6.67],[6.555,6.56],[6.565,6.79],[6.565,6.64],[6.575,6.60],[6.575,6.72],[6.585,6.72],[6.585,6.54],[6.595,6.54],[6.595,6.81],
[6.605,6.78],[6.605,6.65],[6.615,6.59],[6.615,6.83],[6.625,6.77],[6.625,6.58],[6.635,6.68],[6.635,6.81],[6.645,6.87],[6.645,6.63],[6.655,6.65],[6.655,6.77],[6.665,6.76],[6.665,6.87],[6.675,6.61],[6.675,6.72],[6.685,6.86],[6.685,6.82],[6.695,6.71],[6.695,6.66],
[6.705,6.72],[6.705,6.85],[6.715,6.87],[6.715,6.70],[6.725,6.66],[6.725,6.82],[6.735,6.84],[6.735,6.66],[6.745,6.78],[6.745,6.86],[6.755,6.88],[6.755,6.75],[6.765,6.65],[6.765,6.86],[6.775,6.84],[6.775,6.71],[6.785,6.88],[6.785,6.75],[6.795,6.73],[6.795,6.84],
[6.805,6.78],[6.805,6.86],[6.815,6.70],[6.825,6.85],[6.835,6.74],[6.845,6.82],[6.855,6.68],[6.865,6.86],[6.875,6.77],[6.885,6.83],[6.895,6.72],[6.905,6.86],[6.915,6.79],[6.925,6.69],[6.935,6.84],[6.945,6.77],[6.825,6.62],[6.865,6.73],[6.905,6.80],[6.945,6.86]
];

// isolated events away from the band
const strayEvents = [
[1.52,4.30],[3.26,4.35],[3.21,4.10],[3.00,3.86],[3.32,3.90],[2.92,3.58],[2.15,3.31],[2.04,2.66],
[1.70,2.73],[1.86,2.56],[1.77,2.34],[1.36,2.14],[1.36,2.89],[1.24,2.06],[4.93,6.78],[4.52,5.40],
[5.35,6.07],[5.20,5.86],[5.76,4.83],[5.88,5.02],[6.79,3.73],[5.95,6.80],[5.95,6.54],[6.88,6.41],
[5.95,5.58],[4.57,4.03],[4.44,4.06],[4.84,3.76],[1.53,1.33],[1.74,1.24],[1.94,1.56],[2.09,1.40],
[3.69,4.10],[3.95,3.47],[4.59,3.75],[2.70,2.32],[3.37,2.92],[3.66,3.20],[3.75,3.33]
];

const svg = d3.select("#chart");
const W = 757, H = 457;
const plot = { left: 72, right: 756, top: 10, bottom: 420 };

const x = d3.scaleLinear().domain(xRange).range([plot.left, plot.right]);
const y = d3.scaleLinear().domain(yRange).range([plot.bottom, plot.top]);

svg.append("rect").attr("width", W).attr("height", H).attr("fill", "#fff");

svg.append("defs").append("clipPath").attr("id", "plotClip")
  .append("rect")
  .attr("x", plot.left).attr("y", plot.top)
  .attr("width", plot.right - plot.left).attr("height", plot.bottom - plot.top);

// scatter markers
const marks = svg.append("g").attr("clip-path", "url(#plotClip)");
marks.selectAll("rect.ev")
  .data(events.concat(coreEvents, strayEvents))
  .join("rect")
  .attr("class", "ev")
  .attr("x", d => x(d[0]) - 1)
  .attr("y", d => y(d[1]) - 1)
  .attr("width", 2).attr("height", 2)
  .attr("fill", "#000");

// frame
const frame = svg.append("g");
frame.append("line").attr("x1", plot.right).attr("x2", plot.right)
  .attr("y1", plot.top).attr("y2", plot.bottom)
  .attr("stroke", "#999").attr("stroke-width", 1);
frame.append("line").attr("x1", plot.left).attr("x2", plot.right + 1)
  .attr("y1", plot.top).attr("y2", plot.top)
  .attr("stroke", "#444").attr("stroke-width", 2);
frame.append("line").attr("x1", plot.left).attr("x2", plot.right + 1)
  .attr("y1", plot.bottom).attr("y2", plot.bottom)
  .attr("stroke", "#222").attr("stroke-width", 2);
frame.append("line").attr("x1", plot.left).attr("x2", plot.left)
  .attr("y1", plot.top - 1).attr("y2", plot.bottom + 1)
  .attr("stroke", "#222").attr("stroke-width", 2);

const minorVals = (lo, hi) => d3.range(Math.ceil(lo * 5), Math.floor(hi * 5) + 1)
  .map(k => k / 5).filter(v => Math.abs(v - Math.round(v)) > 1e-6);

const fontAxis = "'Liberation Sans', Arial, Helvetica, sans-serif";

// x axis
const gx = svg.append("g").attr("transform", `translate(0,${plot.bottom})`);
gx.call(d3.axisBottom(x).tickValues(minorVals(xRange[0], xRange[1])).tickSize(-6).tickFormat(""));
gx.call(d3.axisBottom(x).tickValues(xMajorTicks).tickSize(-12).tickPadding(4).tickFormat(d3.format("d")));
gx.selectAll(".domain").remove();
gx.selectAll("line").attr("stroke", "#222").attr("stroke-width", 1.5);
gx.selectAll("text").attr("font-family", fontAxis).attr("font-size", 15).attr("fill", "#222");

// y axis
const gy = svg.append("g").attr("transform", `translate(${plot.left},0)`);
gy.call(d3.axisLeft(y).tickValues(minorVals(yRange[0], yRange[1])).tickSize(-12).tickFormat(""));
gy.call(d3.axisLeft(y).tickValues(yMajorTicks).tickSize(-22).tickPadding(7).tickFormat(d3.format("d")));
gy.selectAll(".domain").remove();
gy.selectAll("line").attr("stroke", "#222").attr("stroke-width", 1.5);
gy.selectAll("text").attr("font-family", fontAxis).attr("font-size", 15).attr("fill", "#222");

// axis titles
svg.append("text")
  .attr("x", 755).attr("y", 453.5)
  .attr("text-anchor", "end")
  .attr("font-family", fontAxis).attr("font-size", 15).attr("fill", "#333")
  .text(xAxisTitle);

svg.append("text")
  .attr("transform", "translate(31,10) rotate(-90)")
  .attr("text-anchor", "end")
  .attr("font-family", fontAxis).attr("font-size", 15.5).attr("fill", "#333")
  .text(yAxisTitle);

// energy label
svg.append("text")
  .attr("x", 127).attr("y", 80)
  .attr("font-family", "'Liberation Serif', 'Times New Roman', serif")
  .attr("font-weight", "bold").attr("font-size", 57).attr("fill", "#ff0000")
  .text("E\u03B3 = 1.0 GeV");
</script>
</body>
</html>
